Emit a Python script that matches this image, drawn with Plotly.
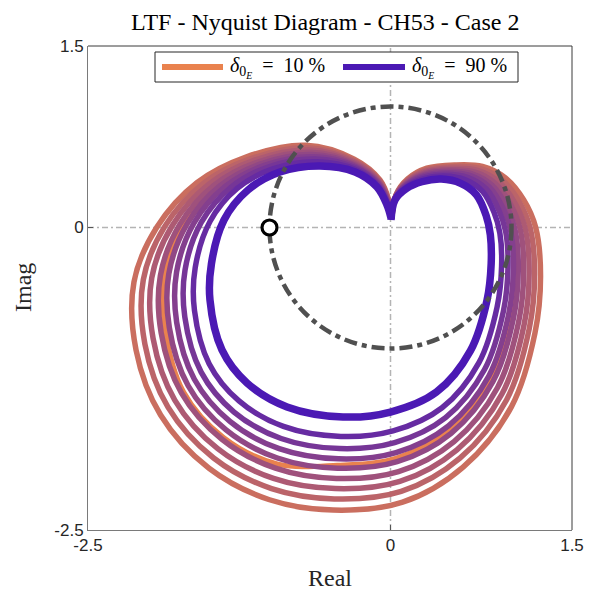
import plotly.graph_objects as go

# ---- data (Real / Imag), innermost (purple) -> outermost (salmon)
re_c0 = [0.004,0.037,0.130,0.260,0.420,0.580,0.710,0.790,0.825,0.832,0.798,0.660,0.380,0.000,-0.393,-0.855,-1.186,-1.393,-1.492,-1.480,-1.376,-1.178,-0.913,-0.583,-0.293,-0.112,-0.029,0.004]
im_c0 = [0.062,0.227,0.320,0.378,0.400,0.365,0.270,0.100,-0.060,-0.300,-0.600,-1.020,-1.360,-1.525,-1.566,-1.483,-1.285,-1.012,-0.599,-0.300,0.062,0.310,0.459,0.508,0.459,0.335,0.186,0.079]
re_c1 = [0.006,0.039,0.132,0.268,0.443,0.618,0.760,0.855,0.904,0.918,0.881,0.731,0.426,0.021,-0.410,-0.885,-1.252,-1.499,-1.620,-1.614,-1.492,-1.267,-0.973,-0.608,-0.294,-0.107,-0.026,0.004]
im_c1 = [0.066,0.236,0.337,0.402,0.425,0.394,0.299,0.127,-0.047,-0.321,-0.657,-1.117,-1.490,-1.681,-1.727,-1.644,-1.433,-1.125,-0.686,-0.332,0.050,0.323,0.484,0.544,0.481,0.347,0.195,0.086]
re_c2 = [0.007,0.040,0.133,0.274,0.457,0.641,0.792,0.895,0.953,0.971,0.933,0.776,0.455,0.034,-0.421,-0.904,-1.293,-1.565,-1.700,-1.698,-1.564,-1.321,-1.011,-0.623,-0.295,-0.104,-0.024,0.004]
im_c2 = [0.068,0.241,0.347,0.416,0.440,0.413,0.318,0.144,-0.040,-0.334,-0.692,-1.176,-1.571,-1.778,-1.827,-1.744,-1.525,-1.195,-0.739,-0.351,0.042,0.330,0.500,0.566,0.495,0.355,0.201,0.090]
re_c3 = [0.008,0.041,0.135,0.278,0.470,0.661,0.818,0.930,0.994,1.016,0.976,0.813,0.479,0.045,-0.430,-0.920,-1.327,-1.621,-1.767,-1.768,-1.625,-1.368,-1.042,-0.636,-0.296,-0.101,-0.023,0.004]
im_c3 = [0.070,0.246,0.356,0.428,0.453,0.428,0.333,0.159,-0.033,-0.345,-0.722,-1.227,-1.639,-1.860,-1.912,-1.828,-1.602,-1.254,-0.785,-0.368,0.036,0.337,0.513,0.585,0.507,0.361,0.206,0.093]
re_c4 = [0.008,0.041,0.136,0.282,0.481,0.679,0.842,0.961,1.031,1.056,1.016,0.847,0.501,0.055,-0.438,-0.935,-1.359,-1.672,-1.828,-1.832,-1.681,-1.410,-1.071,-0.647,-0.297,-0.098,-0.021,0.004]
im_c4 = [0.071,0.250,0.364,0.440,0.464,0.442,0.347,0.172,-0.027,-0.355,-0.750,-1.273,-1.701,-1.935,-1.989,-1.905,-1.673,-1.308,-0.826,-0.383,0.030,0.343,0.526,0.603,0.517,0.367,0.210,0.096]
re_c5 = [0.009,0.042,0.137,0.286,0.493,0.699,0.868,0.995,1.073,1.101,1.059,0.884,0.525,0.066,-0.447,-0.951,-1.393,-1.728,-1.895,-1.902,-1.742,-1.457,-1.102,-0.660,-0.298,-0.096,-0.020,0.004]
im_c5 = [0.073,0.255,0.373,0.452,0.477,0.457,0.362,0.186,-0.020,-0.366,-0.780,-1.324,-1.769,-2.017,-2.074,-1.989,-1.750,-1.367,-0.872,-0.399,0.024,0.350,0.539,0.622,0.529,0.373,0.215,0.099]
re_c6 = [0.010,0.043,0.138,0.291,0.505,0.719,0.895,1.029,1.114,1.146,1.103,0.922,0.549,0.077,-0.456,-0.967,-1.428,-1.783,-1.962,-1.973,-1.803,-1.503,-1.134,-0.673,-0.298,-0.093,-0.018,0.004]
im_c6 = [0.075,0.259,0.382,0.464,0.490,0.473,0.378,0.200,-0.014,-0.377,-0.809,-1.374,-1.837,-2.099,-2.158,-2.074,-1.828,-1.426,-0.917,-0.416,0.017,0.356,0.552,0.640,0.541,0.380,0.220,0.103]
re_c7 = [0.011,0.044,0.139,0.295,0.517,0.738,0.921,1.063,1.155,1.191,1.146,0.959,0.574,0.088,-0.465,-0.983,-1.462,-1.839,-2.030,-2.043,-1.864,-1.549,-1.166,-0.686,-0.299,-0.090,-0.017,0.004]
im_c7 = [0.077,0.264,0.390,0.477,0.503,0.488,0.393,0.214,-0.007,-0.388,-0.839,-1.425,-1.906,-2.181,-2.243,-2.158,-1.905,-1.485,-0.962,-0.432,0.011,0.363,0.565,0.659,0.552,0.386,0.225,0.106]
re_c8 = [0.012,0.045,0.140,0.300,0.530,0.760,0.950,1.100,1.200,1.240,1.194,1.000,0.600,0.100,-0.475,-1.000,-1.500,-1.900,-2.103,-2.120,-1.930,-1.600,-1.200,-0.700,-0.300,-0.087,-0.015,0.004]
im_c8 = [0.079,0.269,0.400,0.490,0.517,0.505,0.410,0.230,0.000,-0.400,-0.872,-1.480,-1.980,-2.270,-2.335,-2.250,-1.990,-1.550,-1.012,-0.450,0.004,0.370,0.580,0.680,0.565,0.393,0.230,0.110]
# the bright orange (10 %) curve, mostly hidden under the others
re_or = [0.008,0.041,0.135,0.278,0.470,0.665,0.830,0.945,1.010,1.030,0.990,0.830,0.490,0.050,-0.440,-0.930,-1.380,-1.710,-1.860,-1.870,-1.700,-1.420,-1.070,-0.645,-0.297,-0.098,-0.021,0.004]
im_or = [0.070,0.248,0.358,0.432,0.455,0.430,0.335,0.160,-0.035,-0.345,-0.725,-1.235,-1.665,-1.905,-1.965,-1.955,-1.735,-1.360,-0.850,-0.390,0.030,0.340,0.520,0.600,0.515,0.366,0.210,0.096]

critical_re = [-1.0]
critical_im = [0.0]

x_ticks = [-2.5, 0, 1.5]
x_ticklabels = ["-2.5", "0", "1.5"]
y_ticks = [-2.5, 0, 1.5]
y_ticklabels = ["-2.5", "0", "1.5"]

legend_labels = ["<i>δ</i><sub>0<sub><i>E</i></sub></sub>\u2002=\u200210 %",
                 "<i>δ</i><sub>0<sub><i>E</i></sub></sub>\u2002=\u200290 %"]

# ---- styles
INNER = (75, 25, 180)
OUTER = (202, 110, 95)
ORANGE = "#E9824E"
PURPLE = "#4B19B4"
mix = [0.0, 0.21, 0.34, 0.45, 0.55, 0.66, 0.77, 0.88, 1.0]


def col(f):
    r = [round(a + (b - a) * f) for a, b in zip(INNER, OUTER)]
    return "rgb(%d,%d,%d)" % tuple(r)


curves = [(re_c0, im_c0), (re_c1, im_c1), (re_c2, im_c2), (re_c3, im_c3), (re_c4, im_c4),
          (re_c5, im_c5), (re_c6, im_c6), (re_c7, im_c7), (re_c8, im_c8)]

fig = go.Figure()
fig.add_trace(go.Scatter(x=re_or, y=im_or, mode="lines",
                         line=dict(color=ORANGE, width=5, shape="spline", smoothing=1.0),
                         showlegend=False, hoverinfo="skip"))
for i in range(len(curves) - 1, -1, -1):
    xs, ys = curves[i]
    fig.add_trace(go.Scatter(x=xs, y=ys, mode="lines",
                             line=dict(color=col(mix[i]), width=7.5 if i == 0 else 5.5,
                                       shape="spline", smoothing=1.0),
                             showlegend=False, hoverinfo="skip"))

shapes = []
# dash-dot zero lines
shapes.append(dict(type="line", xref="x", yref="y", x0=-2.5, x1=1.5, y0=0, y1=0, layer="below",
                   line=dict(color="#b4b4b4", width=1.5, dash="6px,3px,2px,3px")))
shapes.append(dict(type="line", xref="x", yref="y", x0=0, x1=0, y0=-2.5, y1=1.5, layer="below",
                   line=dict(color="#b4b4b4", width=1.5, dash="6px,3px,2px,3px")))
# unit circle
shapes.append(dict(type="circle", xref="x", yref="y", x0=-1, x1=1, y0=-1, y1=1,
                   line=dict(color="#505050", width=4.5, dash="13px,5px,5px,5px")))
# critical point marker
shapes.append(dict(type="circle", xref="x", yref="y", xsizemode="pixel", ysizemode="pixel",
                   xanchor=critical_re[0], yanchor=critical_im[0], x0=-7.5, x1=7.5, y0=-7.5, y1=7.5,
                   fillcolor="white", line=dict(color="black", width=3.2)))
# top / right box lines
shapes.append(dict(type="line", xref="paper", yref="paper", x0=0, x1=1, y0=1, y1=1,
                   line=dict(color="#3a3a3a", width=1)))
shapes.append(dict(type="line", xref="paper", yref="paper", x0=1, x1=1, y0=0, y1=1,
                   line=dict(color="#3a3a3a", width=1)))

# manual legend
L, T, PW, PH = 88, 46, 484, 484
px = lambda v: (v - L) / PW
py = lambda v: (T + PH - v) / PH
shapes.append(dict(type="rect", xref="paper", yref="paper", x0=px(155), x1=px(518), y0=py(82), y1=py(52),
                   fillcolor="white", line=dict(color="#262626", width=1)))
shapes.append(dict(type="line", xref="paper", yref="paper", x0=px(162), x1=px(223), y0=py(67), y1=py(67),
                   line=dict(color=ORANGE, width=6)))
shapes.append(dict(type="line", xref="paper", yref="paper", x0=px(343), x1=px(405), y0=py(67), y1=py(67),
                   line=dict(color=PURPLE, width=6)))

serif = "Liberation Serif"
annotations = [
    dict(xref="paper", yref="paper", x=px(228), y=py(67), xanchor="left", yanchor="middle",
         text=legend_labels[0], showarrow=False, font=dict(family=serif, size=20, color="black")),
    dict(xref="paper", yref="paper", x=px(410), y=py(67), xanchor="left", yanchor="middle",
         text=legend_labels[1], showarrow=False, font=dict(family=serif, size=20, color="black")),
    dict(xref="paper", yref="paper", x=0.5, y=py(578), xanchor="center", yanchor="middle",
         text="Real", showarrow=False, font=dict(family=serif, size=24, color="#262626")),
    dict(xref="paper", yref="paper", x=px(23), y=0.5, xanchor="center", yanchor="middle",
         text="Imag", textangle=-90, showarrow=False, font=dict(family=serif, size=24, color="#262626")),
    dict(xref="paper", yref="paper", x=0.49, y=py(22), xanchor="center", yanchor="middle",
         text="LTF - Nyquist Diagram - CH53 - Case 2", showarrow=False,
         font=dict(family=serif, size=24, color="black")),
]

axis_common = dict(showgrid=False, zeroline=False, showline=True, linecolor="#7a7a7a", linewidth=1,
                   ticks="inside", ticklen=5, tickcolor="#555555", mirror=False, automargin=False,
                   tickfont=dict(family="Liberation Sans", size=17, color="#262626"))

fig.update_layout(
    width=589, height=608,
    margin=dict(l=L, r=589 - L - PW, t=T, b=608 - T - PH, autoexpand=False),
    paper_bgcolor="white", plot_bgcolor="white",
    showlegend=False,
    shapes=shapes, annotations=annotations,
    xaxis=dict(range=[-2.5, 1.5], tickvals=x_ticks, ticktext=x_ticklabels, **axis_common),
    yaxis=dict(range=[-2.5, 1.5], tickvals=y_ticks, ticktext=y_ticklabels, **axis_common),
)

fig.write_html("out.html")
